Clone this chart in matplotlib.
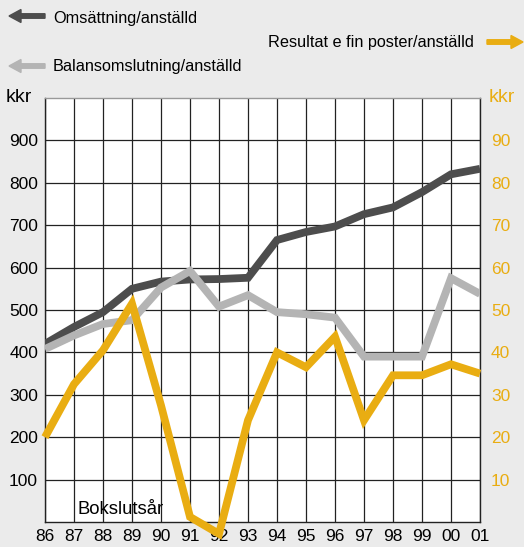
import matplotlib
matplotlib.use("Agg")
import matplotlib.pyplot as plt
from matplotlib.patches import FancyArrow
import numpy as np

plt.rcParams.update({
    "font.family": ["Liberation Sans", "DejaVu Sans"],
    "font.size": 12.5,
    "figure.facecolor": "#ebebeb",
})

DARK = "#4d4d4d"
LIGHT = "#b4b4b4"
ORANGE = "#e9ad12"
W, H = 524, 547

years = ["86", "87", "88", "89", "90", "91", "92", "93",
         "94", "95", "96", "97", "98", "99", "00", "01"]
omsattning = [420, 460, 495, 550, 567, 572, 573, 576,
              665, 684, 697, 726, 742, 778, 820, 833]
balans = [408, 440, 467, 476, 553, 592, 508, 535,
          495, 490, 482, 390, 390, 390, 575, 538]
resultat = [20, 32.5, 40.5, 51.5, 27.5, 1.2, -2.8, 24,
            40, 36.5, 43.7, 24, 34.6, 34.6, 37.2, 35]
left_ticks = [100, 200, 300, 400, 500, 600, 700, 800, 900]
right_ticks = [10, 20, 30, 40, 50, 60, 70, 80, 90]


def px(x, y):
    return x / W, 1 - y / H


fig = plt.figure(figsize=(W / 100, H / 100), dpi=100)
ax = fig.add_axes([45 / W, 1 - 522 / H, 435 / W, 424 / H])
ax.set_facecolor("white")
x = np.arange(len(years))

ax.set_xlim(0, len(years) - 1)
ax.set_ylim(0, 1000)
ax.set_xticks(x)
ax.set_xticklabels(years)
ax.set_yticks(left_ticks)
ax.tick_params(length=0, labelsize=12.5)
ax.tick_params(axis="y", pad=5)
ax.tick_params(axis="x", pad=5)
ax.grid(True, color="#222222", lw=0.9)
ax.set_axisbelow(True)
for s in ax.spines.values():
    s.set_color("#222222")
    s.set_linewidth(1.0)
ax.spines["top"].set_color("#999999")

lw = 5.6
ax.plot(x, omsattning, color=DARK, lw=lw, solid_joinstyle="miter", solid_capstyle="butt", zorder=3)
ax.plot(x, balans, color=LIGHT, lw=lw, solid_joinstyle="miter", solid_capstyle="butt", zorder=4)

ax2 = ax.twinx()
ax2.set_ylim(0, 100)
ax2.set_yticks(right_ticks)
ax2.tick_params(length=0, labelsize=12.5, labelcolor=ORANGE, pad=8)
ax2.patch.set_visible(False)
for s in ax2.spines.values():
    s.set_visible(False)
ax2.plot(x, resultat, color=ORANGE, lw=lw, solid_joinstyle="miter", solid_capstyle="butt",
         clip_on=False, zorder=5)

ax.text(0.074, 0.01, "Bokslutsår", transform=ax.transAxes, fontsize=13.3, va="bottom", ha="left")

# unit labels
fig.text(*px(6, 98), "kkr", fontsize=14, va="center", ha="left")
fig.text(*px(489, 98), "kkr", fontsize=14, va="center", ha="left", color=ORANGE)

# legend texts
fig.text(*px(53, 18), "Omsättning/anställd", fontsize=11.7, va="center", ha="left")
fig.text(*px(53, 66), "Balansomslutning/anställd", fontsize=11.7, va="center", ha="left")
fig.text(*px(474, 42), "Resultat e fin poster/anställd", fontsize=11.7, va="center", ha="right")


def arrow(x0, x1, y, color):
    fx0, fy = px(x0, y)
    fx1, _ = px(x1, y)
    fig.patches.append(FancyArrow(fx0, fy, fx1 - fx0, 0, width=4.5 / H,
                                  head_width=13 / H, head_length=12 / W,
                                  length_includes_head=True, color=color,
                                  transform=fig.transFigure, figure=fig))


arrow(45, 9, 16, DARK)
arrow(45, 9, 66, LIGHT)
arrow(487, 523, 42, ORANGE)

fig.savefig("out.png", dpi=100)
